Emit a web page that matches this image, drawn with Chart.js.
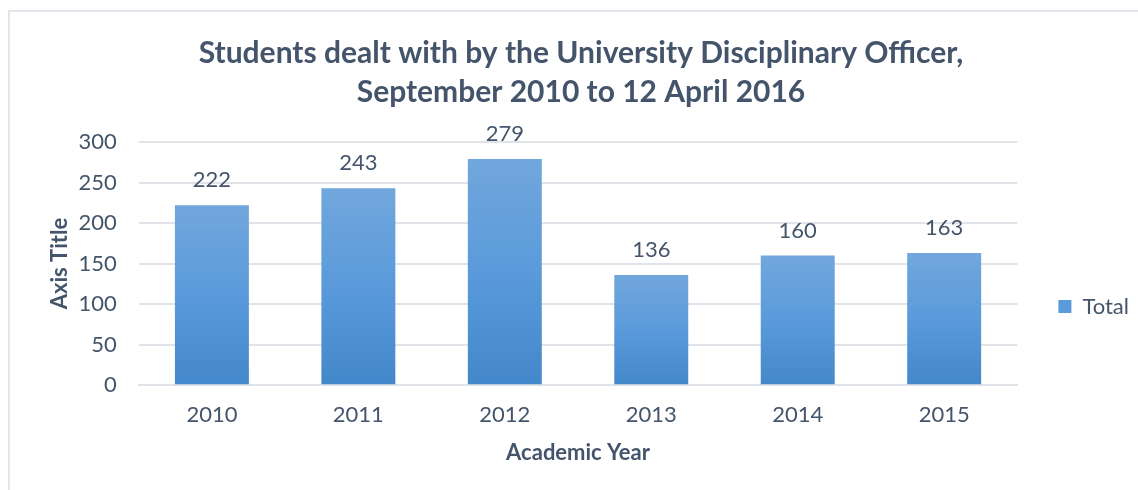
<!DOCTYPE html>
<html>
<head>
<meta charset="utf-8">
<script src="https://cdn.jsdelivr.net/npm/chart.js@4/dist/chart.umd.min.js"></script>
<style>
  html, body { margin: 0; padding: 0; background: #fff; }
  #wrap { position: relative; width: 1138px; height: 490px; overflow: hidden; }
  #frame { position: absolute; left: 8px; top: 10px; width: 1140px; height: 500px; border: 2px solid #E2E6EC; box-sizing: border-box; }
  #c { position: absolute; left: 0; top: 0; }
</style>
</head>
<body>
<div id="wrap">
  <div id="frame"></div>
  <canvas id="c" width="1138" height="490"></canvas>
</div>
<script>
const categories = ['2010', '2011', '2012', '2013', '2014', '2015'];
const totals = [222, 243, 279, 136, 160, 163];
const seriesName = 'Total';
const chartTitle = ['Students dealt with by the University Disciplinary Officer,', 'September 2010 to 12 April 2016'];
const xTitle = 'Academic Year';
const yTitle = 'Axis Title';

const TEXT = '#44546A';
const FONT = 'Lato, "Open Sans", sans-serif';

function barGradient(ctx) {
  const chart = ctx.chart;
  const y = chart.scales && chart.scales.y;
  if (!chart.chartArea || !y || ctx.raw === undefined) return '#5B9BD5';
  const top = y.getPixelForValue(ctx.raw);
  const bottom = y.getPixelForValue(0);
  const g = chart.ctx.createLinearGradient(0, top, 0, bottom);
  g.addColorStop(0, '#71A7DC');
  g.addColorStop(0.5, '#5A9ADB');
  g.addColorStop(1, '#4388CA');
  return g;
}

const valueLabels = {
  id: 'valueLabels',
  afterDatasetsDraw(chart) {
    const ctx = chart.ctx;
    ctx.save();
    ctx.font = '22px ' + FONT;
    ctx.fillStyle = TEXT;
    ctx.textAlign = 'center';
    ctx.textBaseline = 'middle';
    chart.data.datasets.forEach((ds, di) => {
      chart.getDatasetMeta(di).data.forEach((el, i) => {
        ctx.fillText(String(ds.data[i]), el.x, el.y - 25);
      });
    });
    ctx.restore();
  }
};

new Chart(document.getElementById('c'), {
  type: 'bar',
  data: {
    labels: categories,
    datasets: [{
      label: seriesName,
      data: totals,
      backgroundColor: barGradient,
      borderWidth: 0,
      categoryPercentage: 1.0,
      barPercentage: 0.505
    }]
  },
  options: {
    responsive: false,
    animation: false,
    devicePixelRatio: 1,
    layout: { padding: { left: 23, right: -1, top: 34, bottom: 24 } },
    plugins: {
      tooltip: { enabled: false },
      title: {
        display: true,
        text: chartTitle,
        color: TEXT,
        font: { family: FONT, size: 30, weight: 'bold', lineHeight: 1.3 },
        padding: { top: 0, bottom: 30 }
      },
      legend: {
        position: 'right',
        align: 'center',
        title: {
          display: true,
          text: ' ',
          font: { family: FONT, size: 10, lineHeight: 1.2 },
          padding: { top: 0, bottom: 101 }
        },
        labels: {
          color: TEXT,
          font: { family: FONT, size: 22 },
          boxWidth: 13,
          boxHeight: 13,
          padding: 41,
          generateLabels(chart) {
            return [{ text: seriesName, fillStyle: '#5A9ADB', strokeStyle: '#5A9ADB', lineWidth: 0, datasetIndex: 0, fontColor: TEXT }];
          }
        }
      }
    },
    scales: {
      x: {
        grid: { display: false, drawTicks: false },
        border: { display: true, color: '#E0E3E8', width: 2 },
        ticks: { color: TEXT, font: { family: FONT, size: 22 }, padding: 17 },
        title: { display: true, text: xTitle, color: TEXT, font: { family: FONT, size: 22, weight: 'bold' }, padding: { top: -6, bottom: 0 } }
      },
      y: {
        min: 0, max: 300,
        ticks: { stepSize: 50, color: TEXT, font: { family: FONT, size: 22 }, padding: 22 },
        grid: { color: '#E0E3E8', lineWidth: 2, drawTicks: false },
        border: { display: false },
        title: { display: true, text: yTitle, color: TEXT, font: { family: FONT, size: 22, weight: 'bold' }, padding: { top: 24, bottom: -17 } }
      }
    }
  },
  plugins: [valueLabels]
});
</script>
</body>
</html>
